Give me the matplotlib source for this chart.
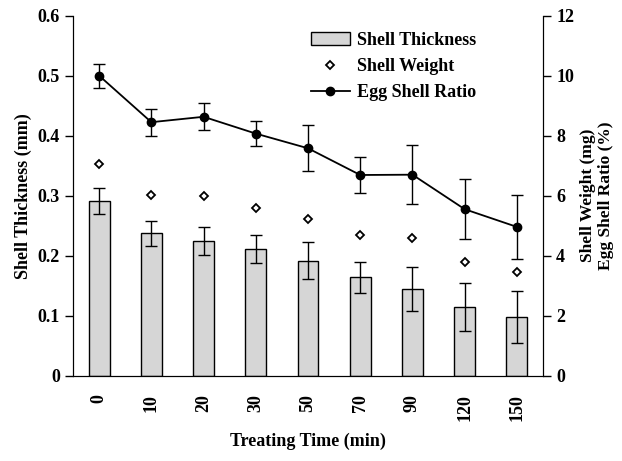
import matplotlib.pyplot as plt
from matplotlib.lines import Line2D
import numpy as np

plt.rcParams['font.family'] = ['Liberation Serif', 'DejaVu Serif']
plt.rcParams['font.weight'] = 'bold'

# treating time categories
times = ['0', '10', '20', '30', '50', '70', '90', '120', '150']
# shell thickness (mm), left axis
thickness = [0.291, 0.237, 0.225, 0.211, 0.192, 0.164, 0.145, 0.114, 0.098]
thickness_err = [0.021, 0.020, 0.023, 0.023, 0.030, 0.026, 0.037, 0.040, 0.043]
# shell weight (mg), right axis
weight = [7.05, 6.01, 5.98, 5.58, 5.22, 4.68, 4.58, 3.80, 3.46]
# egg shell ratio (%), right axis
ratio = [10.0, 8.45, 8.63, 8.07, 7.58, 6.69, 6.70, 5.55, 4.96]
ratio_err = [0.40, 0.45, 0.45, 0.42, 0.77, 0.60, 0.98, 1.01, 1.07]

x = np.arange(len(times))

fig = plt.figure(figsize=(6.22, 4.61), dpi=100)
ax = fig.add_axes([0.1174, 0.185, 0.7556, 0.781])
ax2 = ax.twinx()

b = ax.bar(x, thickness, width=0.4, color='#d6d6d6', edgecolor='black', linewidth=1,
           yerr=thickness_err, capsize=4, error_kw=dict(elinewidth=1, capthick=1, ecolor='black'),
           zorder=2)

d, = ax2.plot(x, weight, linestyle='none', marker='D', markersize=4.5, markerfacecolor='white',
              markeredgecolor='black', markeredgewidth=1.3)
ax2.errorbar(x, ratio, yerr=ratio_err, color='black', marker='o', markersize=6, linewidth=1.3,
             capsize=4, elinewidth=1, capthick=1)
e = Line2D([], [], color='black', marker='o', markersize=6, linewidth=1.3)

ax.set_xlim(-0.5, 8.5)
ax.set_ylim(0, 0.6)
ax2.set_ylim(0, 12)
ax.set_yticks([0, 0.1, 0.2, 0.3, 0.4, 0.5, 0.6])
ax.set_yticklabels(['0', '0.1', '0.2', '0.3', '0.4', '0.5', '0.6'])
ax2.set_yticks([0, 2, 4, 6, 8, 10, 12])
ax.set_xticks(x)
ax.set_xticklabels(times, rotation=90)

for a in (ax, ax2):
    a.spines['top'].set_visible(False)
    a.tick_params(labelsize=13, width=1, length=6)
ax.tick_params(axis='x', length=0, pad=13)

ax.set_ylabel('Shell Thickness (mm)', fontsize=13, fontweight='bold')
ax2.set_ylabel('Shell Weight (mg)\nEgg Shell Ratio (%)', fontsize=12.5, fontweight='bold',
               linespacing=1.15, labelpad=4)
ax.set_xlabel('Treating Time (min)', fontsize=13, fontweight='bold', labelpad=9)

ax2.legend([b, d, e], ['Shell Thickness', 'Shell Weight', 'Egg Shell Ratio'],
           loc='upper left', bbox_to_anchor=(0.49, 0.975), frameon=False, fontsize=13,
           handlelength=2.2, handletextpad=0.4, labelspacing=0.5, borderaxespad=0)

fig.savefig('out.png', dpi=100)
